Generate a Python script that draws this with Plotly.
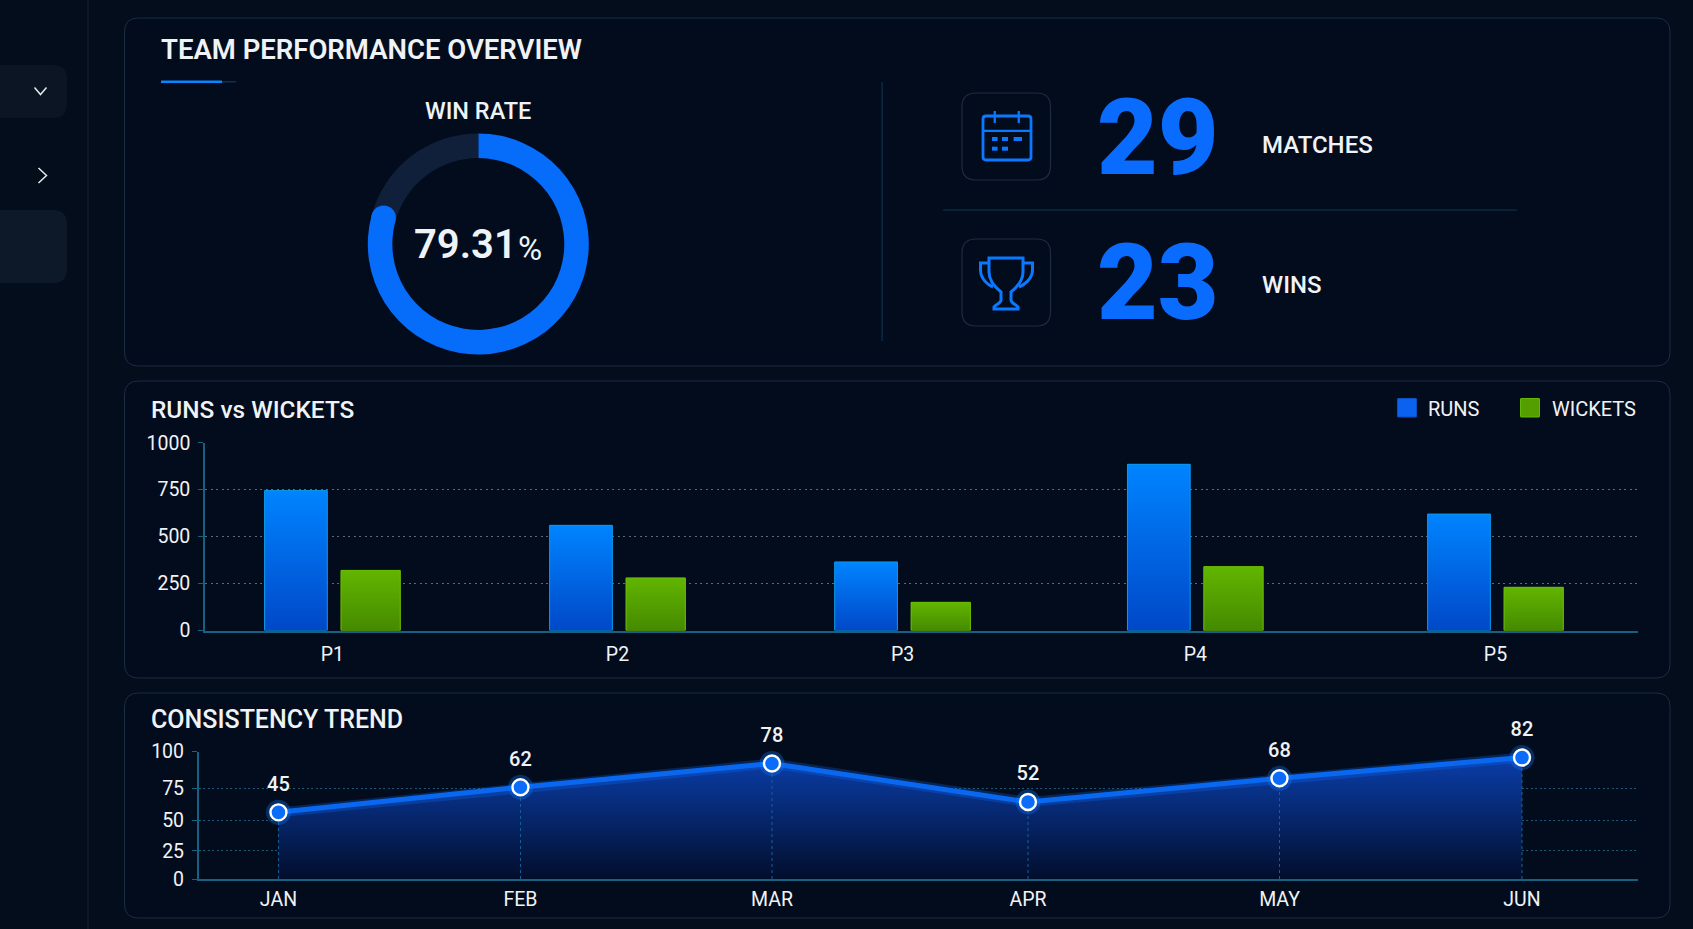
import math
import plotly.graph_objects as go

# ---- data ----
WIN_RATE = 79.31
MATCHES = 29
WINS = 23

PERIODS = ["P1", "P2", "P3", "P4", "P5"]
RUNS = [745, 560, 365, 885, 620]
WICKETS = [320, 280, 150, 340, 230]
BAR_TICKS = [0, 250, 500, 750, 1000]

MONTHS = ["JAN", "FEB", "MAR", "APR", "MAY", "JUN"]
CONSISTENCY = [45, 62, 78, 52, 68, 82]
TREND_TICK_LABELS = ["0", "25", "50", "75", "100"]

# ---- slot positions along the two category axes ----
PERIOD_SLOTS = [0, 1.0, 2.0, 3.027, 4.08]
MONTH_SLOTS = [0, 0.968, 1.974, 2.998, 4.004, 4.974]
TREND_TICK_POS = [0, 19, 39.4, 61.3, 86.1]

# ---- canvas and palette ----
W, H = 1693, 929
PAGE = "#040d1b"
PANEL = "#030c1d"
BORDER = "#1b2c44"
BLUE = "#0a6cff"
TEXT = "#f0f3f6"
AXIS = "#17607f"


def fx(x):
    return x / W


def fy(y):
    return 1 - y / H


def rrect(x0, y0, x1, y1, r):
    """Rounded rectangle as an SVG path in paper fractions."""
    p = lambda x, y: f"{fx(x):.5f},{fy(y):.5f}"
    return (
        f"M{p(x0 + r, y0)} L{p(x1 - r, y0)} Q{p(x1, y0)} {p(x1, y0 + r)} "
        f"L{p(x1, y1 - r)} Q{p(x1, y1)} {p(x1 - r, y1)} L{p(x0 + r, y1)} "
        f"Q{p(x0, y1)} {p(x0, y1 - r)} L{p(x0, y0 + r)} Q{p(x0, y0)} {p(x0 + r, y0)} Z"
    )


def poly(cmds):
    """Path from ('M'|'L'|'C', x, y, ...) tuples given in canvas pixels."""
    out = []
    for c in cmds:
        if c == "Z":
            out.append("Z")
            continue
        pts = c[1:]
        pairs = [f"{fx(pts[i]):.5f},{fy(pts[i + 1]):.5f}" for i in range(0, len(pts), 2)]
        out.append(c[0] + " ".join(pairs))
    return " ".join(out)


shapes = []
annotations = []


def add_path(path, fill=None, line=None, width=1, layer="below"):
    shapes.append(dict(
        type="path", path=path, xref="paper", yref="paper", layer=layer,
        fillcolor=fill if fill else "rgba(0,0,0,0)",
        line=dict(color=line if line else "rgba(0,0,0,0)", width=width if line else 0),
    ))


def add_rect(x0, y0, x1, y1, fill, layer="below"):
    shapes.append(dict(
        type="rect", xref="paper", yref="paper", layer=layer,
        x0=fx(x0), x1=fx(x1), y0=fy(y0), y1=fy(y1),
        fillcolor=fill, line=dict(width=0),
    ))


def add_text(x, y, text, size, color=TEXT, anchor="left", weight=500):
    annotations.append(dict(
        x=fx(x), y=fy(y), xref="paper", yref="paper", text=text, showarrow=False,
        xanchor=anchor, yanchor="middle", align=anchor,
        font=dict(family="Roboto", size=size, color=color, weight=weight),
    ))


# ---- sidebar ----
add_path(rrect(-30, 65, 67, 118, 14), fill="#0b1523")
add_path(rrect(-30, 210, 67, 283, 14), fill="#0d1828")
add_rect(87.5, 0, 88.5, H, "#13253a")
add_path(poly([("M", 34.5, 87.5), ("L", 40.5, 94.5), ("L", 46.5, 87.5)]), line="#e6eaee", width=1.5)
add_path(poly([("M", 38.5, 168), ("L", 46.5, 175.5), ("L", 38.5, 183)]), line="#e6eaee", width=1.5)

# ---- panels ----
for top, bottom in [(18, 366), (381, 678), (693, 918)]:
    add_path(rrect(124.5, top, 1670, bottom, 14), fill=PANEL, line=BORDER, width=1)

# ---- overview panel ----
add_text(158.5, 50, "TEAM PERFORMANCE OVERVIEW", 27.5, weight=600)
add_rect(161, 80.5, 222, 83, "#0a84ff")
add_rect(222, 81, 236, 82.5, "#06325f")
add_text(478, 111, "WIN RATE", 23.5, anchor="center")
add_text(465, 244, "79.31", 40, anchor="center", weight=600)
add_text(516, 249, "%", 33, anchor="left", weight=400)

add_rect(881.5, 82, 882.8, 341, "#0e2c4a")
add_rect(943, 209.5, 1517, 210.7, "#0e2c4a")
add_path(rrect(962, 93, 1050.5, 180, 14), line="#1e2c40", width=1.2)
add_path(rrect(962, 239, 1050.5, 326, 14), line="#1e2c40", width=1.2)

# calendar icon
ICON = "#0a78ff"
add_path(rrect(983, 116, 1031, 160, 3), line=ICON, width=2.8)
add_rect(983, 129.7, 1031, 132, ICON)
add_rect(993.6, 111, 995.9, 123, ICON)
add_rect(1017.6, 111, 1019.9, 123, ICON)
for a, b, t in [(992, 997.6, 137), (1002, 1008, 137), (1013.6, 1022, 137), (992, 997.6, 146.7), (1002, 1008, 146.7)]:
    add_rect(a, t, b, t + 4, ICON)

# trophy icon
add_path(poly([
    ("M", 989, 258), ("L", 1023, 258), ("L", 1023, 272),
    ("C", 1023, 282, 1016, 288, 1011, 292), ("L", 1011, 300),
    ("C", 1011, 303, 1015, 304, 1018, 307), ("L", 1018, 309), ("L", 994, 309), ("L", 994, 307),
    ("C", 997, 304, 1001, 303, 1001, 300), ("L", 1001, 292),
    ("C", 996, 288, 989, 282, 989, 272), "Z",
]), line=ICON, width=3)
add_path(poly([("M", 989, 263), ("L", 980.5, 263), ("L", 980.5, 270), ("C", 980.5, 279, 988, 285, 993, 287)]), line=ICON, width=3)
add_path(poly([("M", 1023, 263), ("L", 1032.5, 263), ("L", 1032.5, 270), ("C", 1032.5, 279, 1024, 285, 1019, 287)]), line=ICON, width=3)

add_text(1095, 138.5, str(MATCHES), 105, color=BLUE, weight=900)
add_text(1095, 284, str(WINS), 105, color=BLUE, weight=900)
add_text(1260, 145, "MATCHES", 24)
add_text(1260, 285, "WINS", 24)

# ---- bar panel headings and legend ----
add_text(149, 409, "RUNS vs WICKETS", 24.4)
add_path(rrect(1397.5, 398.5, 1416.5, 417, 0.5), fill="#0a62ee", line="#0a4fc0", width=1)
add_text(1426, 408.5, "RUNS", 20, weight=400)
add_path(rrect(1520.5, 398.5, 1539.5, 417, 0.5), fill="#549e00", line="#62b800", width=1)
add_text(1549.5, 408.5, "WICKETS", 20, weight=400)

# ---- trend panel heading ----
add_text(149, 719, "CONSISTENCY TREND", 25)

fig = go.Figure()

# ---- donut ----
CX, CY, R = 478.3, 244, 110.5
fig.add_trace(go.Pie(
    values=[WIN_RATE, 100 - WIN_RATE], sort=False, direction="clockwise", rotation=0,
    hole=0.778, textinfo="none", hoverinfo="skip", showlegend=False,
    marker=dict(colors=["#066cfa", "#11203a"], line=dict(width=0)),
    domain=dict(x=[fx(CX - R), fx(CX + R)], y=[fy(CY + R), fy(CY - R)]),
))
# rounded cap where the win-rate arc ends
angle = 2 * math.pi * WIN_RATE / 100
ring_mid = R * (1 + 0.778) / 2
cap_x = CX + ring_mid * math.sin(angle)
cap_y = CY - ring_mid * math.cos(angle)
cap_r = R * (1 - 0.778) / 2
shapes.append(dict(
    type="circle", xref="paper", yref="paper", layer="above",
    x0=fx(cap_x - cap_r), x1=fx(cap_x + cap_r), y0=fy(cap_y + cap_r), y1=fy(cap_y - cap_r),
    fillcolor="#066cfa", line=dict(width=0),
))

# ---- grouped bars ----
BAR_STYLES = [
    ("RUNS", RUNS, -0.238, 0.22, "#0064ec", "#0048c8", "#0084ff", "#0a9be8"),
    ("WICKETS", WICKETS, 0.03, 0.208, "#55a000", "#458a00", "#62b500", "#6cc000"),
]
for name, values, offset, width, solid, low, high, edge in BAR_STYLES:
    fig.add_trace(go.Bar(
        name=name, x=PERIOD_SLOTS, y=values, offset=offset, width=width,
        marker=dict(color=solid, line=dict(width=0)), showlegend=False, hoverinfo="skip",
        xaxis="x", yaxis="y",
    ))
    # vertical shading laid over each bar, built from the same values
    for slot, v in zip(PERIOD_SLOTS, values):
        left, right = slot + offset, slot + offset + width
        fig.add_trace(go.Scatter(
            x=[left, left, right, right, left], y=[0, v, v, 0, 0], mode="lines",
            fill="toself", line=dict(color=edge, width=1), showlegend=False, hoverinfo="skip",
            fillgradient=dict(type="vertical", colorscale=[[0, low], [1, high]]),
            xaxis="x", yaxis="y",
        ))

# ---- trend line ----
fig.add_trace(go.Scatter(
    x=MONTH_SLOTS, y=CONSISTENCY, mode="none", fill="tozeroy",
    fillgradient=dict(type="vertical", colorscale=[[0, "#020e2c"], [1, "#0a3eaa"]]),
    showlegend=False, hoverinfo="skip", xaxis="x2", yaxis="y2",
))
drop_x, drop_y = [], []
for slot, v in zip(MONTH_SLOTS, CONSISTENCY):
    drop_x += [slot, slot, None]
    drop_y += [0, v, None]
fig.add_trace(go.Scatter(
    x=drop_x, y=drop_y, mode="lines", line=dict(color="#1c5f96", width=1, dash="dot"),
    showlegend=False, hoverinfo="skip", xaxis="x2", yaxis="y2",
))
fig.add_trace(go.Scatter(
    x=MONTH_SLOTS, y=CONSISTENCY, mode="lines", line=dict(color="rgba(10,110,255,0.25)", width=10),
    cliponaxis=False, showlegend=False, hoverinfo="skip", xaxis="x2", yaxis="y2",
))
fig.add_trace(go.Scatter(
    x=MONTH_SLOTS, y=CONSISTENCY, mode="lines", line=dict(color="#0a68f0", width=5),
    cliponaxis=False, showlegend=False, hoverinfo="skip", xaxis="x2", yaxis="y2",
))
fig.add_trace(go.Scatter(
    x=MONTH_SLOTS, y=CONSISTENCY, mode="markers",
    marker=dict(size=25, color="rgba(10,120,255,0.32)", line=dict(width=0)),
    cliponaxis=False, showlegend=False, hoverinfo="skip", xaxis="x2", yaxis="y2",
))
fig.add_trace(go.Scatter(
    x=MONTH_SLOTS, y=CONSISTENCY, mode="markers",
    marker=dict(size=16, color="#0a6cf8", line=dict(color="#ffffff", width=2.4)),
    cliponaxis=False, showlegend=False, hoverinfo="skip", xaxis="x2", yaxis="y2",
))
# value labels sit on a wider transparent marker so they clear the ring
fig.add_trace(go.Scatter(
    x=MONTH_SLOTS, y=CONSISTENCY, mode="markers+text",
    marker=dict(size=25, color="rgba(0,0,0,0)", line=dict(width=0)),
    text=[str(v) for v in CONSISTENCY], textposition="top center",
    textfont=dict(family="Roboto", size=20, color=TEXT, weight=500),
    cliponaxis=False, showlegend=False, hoverinfo="skip", xaxis="x2", yaxis="y2",
))

TICK_FONT = dict(family="Roboto", size=19.5, color=TEXT, weight=400)

fig.update_layout(
    template="none",
    width=W, height=H, autosize=False, margin=dict(l=0, r=0, t=0, b=0, pad=0),
    paper_bgcolor=PAGE, plot_bgcolor="rgba(0,0,0,0)",
    barmode="overlay", showlegend=False, shapes=shapes, annotations=annotations,
    font=dict(family="Roboto", color=TEXT),
    xaxis=dict(
        domain=[fx(205), fx(1638)], range=[-0.447, 4.58], anchor="y", automargin=False,
        tickvals=PERIOD_SLOTS, ticktext=PERIODS, showgrid=False, zeroline=False,
        showline=True, linecolor=AXIS, linewidth=1.5, ticks="",
        tickfont=TICK_FONT, ticklabelstandoff=5,
    ),
    yaxis=dict(
        domain=[fy(630.5), fy(442.7)], range=[0, 1000], anchor="x", automargin=False,
        tickvals=BAR_TICKS, showgrid=True, gridcolor="#5a6a78", griddash="2px,3.5px", gridwidth=1.4,
        zeroline=False, showline=True, linecolor=AXIS, linewidth=1.5,
        ticks="outside", ticklen=5, tickcolor=AXIS, tickfont=TICK_FONT, ticklabelstandoff=4,
    ),
    xaxis2=dict(
        domain=[fx(198.7), fx(1638)], range=[-0.319, 5.438], anchor="y2", automargin=False,
        tickvals=MONTH_SLOTS, ticktext=MONTHS, showgrid=False, zeroline=False,
        showline=True, linecolor=AXIS, linewidth=1.5, ticks="",
        tickfont=TICK_FONT, ticklabelstandoff=2,
    ),
    yaxis2=dict(
        domain=[fy(879), fy(751.5)], range=[0, 86.1], anchor="x2", automargin=False,
        tickvals=TREND_TICK_POS, ticktext=TREND_TICK_LABELS,
        showgrid=True, gridcolor="#1c5a78", griddash="2px,2.5px", gridwidth=1,
        zeroline=False, showline=True, linecolor=AXIS, linewidth=1.5,
        ticks="outside", ticklen=5, tickcolor=AXIS, tickfont=TICK_FONT, ticklabelstandoff=4,
    ),
)

fig.write_html("out.html", config=dict(displayModeBar=False))
